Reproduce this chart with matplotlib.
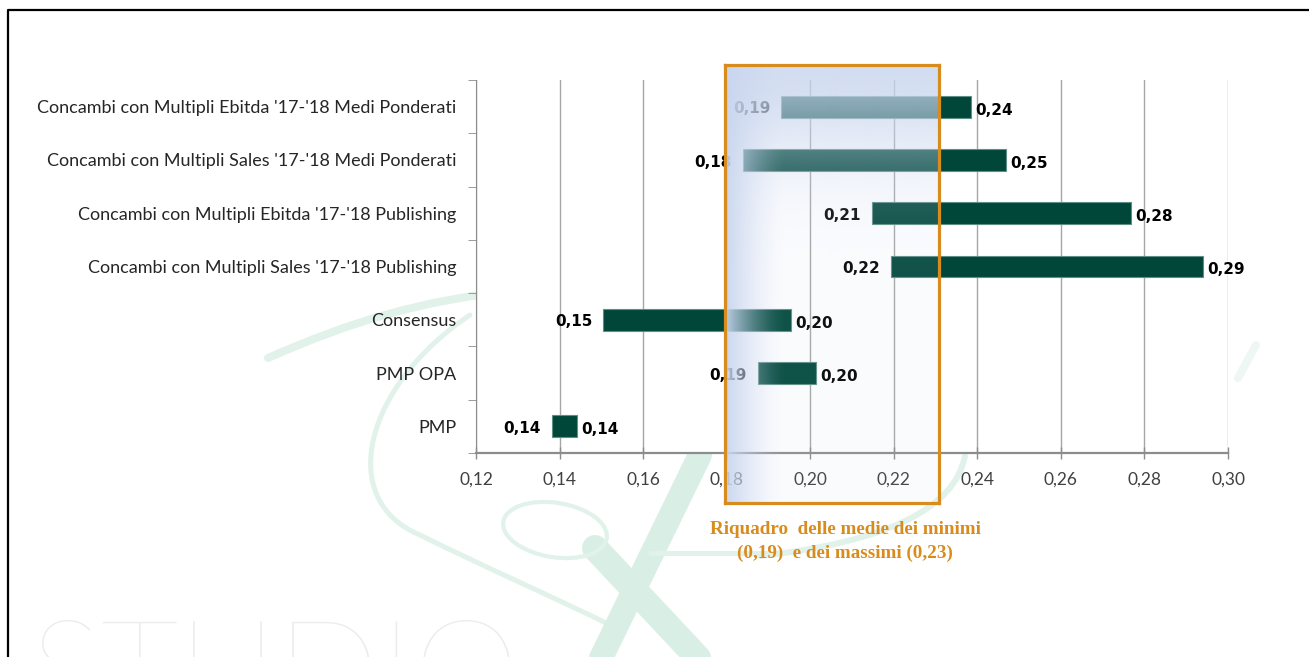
import numpy as np
import matplotlib
matplotlib.use("Agg")
import matplotlib.pyplot as plt
from matplotlib.path import Path
from matplotlib.patches import PathPatch, Ellipse
from matplotlib.lines import Line2D

# ranges (min, max)
categories = [
    "Concambi con Multipli Ebitda '17-'18 Medi Ponderati",
    "Concambi con Multipli Sales '17-'18 Medi Ponderati",
    "Concambi con Multipli Ebitda '17-'18 Publishing",
    "Concambi con Multipli Sales '17-'18 Publishing",
    "Consensus",
    "PMP OPA",
    "PMP",
]
mins = [0.1931, 0.1838, 0.2148, 0.2193, 0.1505, 0.1874, 0.1382]
maxs = [0.2385, 0.2469, 0.2768, 0.2941, 0.1955, 0.2015, 0.1442]
xticks = [0.12, 0.14, 0.16, 0.18, 0.20, 0.22, 0.24, 0.26, 0.28, 0.30]
box_range = [0.1795, 0.2308]
caption = ["Riquadro  delle medie dei minimi", "(0,19)  e dei massimi (0,23)"]

W, H = 1309, 657
GREEN = "#00473a"
ORANGE = "#d98c1e"


def fx(px):
    return px / W


def fy(py):
    return 1 - py / H


def fmt(v):
    return f"{v:.2f}".replace(".", ",")


fig = plt.figure(figsize=(W / 100, H / 100), dpi=100)
fig.patch.set_facecolor("white")

# ---- watermark (background decoration) ----
mint = "#e1f2ea"
mint2 = "#d9efe5"


def stroke(verts, codes, lw, color=mint):
    p = Path([(fx(x), fy(y)) for x, y in verts], codes)
    fig.add_artist(PathPatch(p, fill=False, lw=lw * 0.72, edgecolor=color,
                             capstyle="round", transform=fig.transFigure, zorder=-2))


C4 = Path.CURVE4
C3 = Path.CURVE3
MV = Path.MOVETO
LT = Path.LINETO
stroke([(268, 358), (350, 322), (420, 300), (520, 290)], [MV, C4, C4, C4], 8)
stroke([(470, 315), (365, 385), (335, 500), (420, 535),
        (480, 565), (560, 600), (610, 625)], [MV, C4, C4, C4, C4, C4, C4], 5)
stroke([(700, 455), (600, 660)], [MV, LT], 24, mint2)
stroke([(595, 548), (700, 660)], [MV, LT], 26, mint2)
stroke([(965, 456), (950, 535), (760, 556)], [MV, C3, C3], 6)
stroke([(650, 553), (770, 553)], [MV, LT], 5)
stroke([(1238, 378), (1256, 345)], [MV, LT], 8, "#eef7f3")
fig.add_artist(Ellipse((fx(555), fy(530)), fx(95), 60 / H, angle=35, fill=False,
                       lw=3, edgecolor=mint, transform=fig.transFigure, zorder=-2))
fig.text(fx(30), fy(618), "STUDIO", fontsize=98, color="#eaedec", family="Lato",
         fontweight="light", va="top", ha="left", zorder=-1)

# ---- main axes ----
ax_l, ax_r, ax_t, ax_b = 476, 1228, 80, 453
ax = fig.add_axes([fx(ax_l), fy(ax_b), fx(ax_r - ax_l), (ax_b - ax_t) / H])
ax.set_facecolor("white")

y = np.arange(len(categories))
widths = np.array(maxs) - np.array(mins)
ax.barh(y, widths, left=mins, height=0.41, color=GREEN, edgecolor="#5e8e84",
        linewidth=0.8, zorder=3)

for yi, lo, hi in zip(y, mins, maxs):
    ax.annotate(fmt(lo), xy=(lo, yi), xytext=(-8, -1.5), textcoords="offset points",
                ha="right", va="center", fontsize=11, fontweight="bold",
                family="DejaVu Sans", color="black", zorder=4)
    ax.annotate(fmt(hi), xy=(hi, yi), xytext=(3, -2.5), textcoords="offset points",
                ha="left", va="center", fontsize=11, fontweight="bold",
                family="DejaVu Sans", color="black", zorder=4, annotation_clip=False)

ax.set_xlim(xticks[0], xticks[-1])
ax.set_ylim(len(categories) - 0.5, -0.5)
ax.set_xticks(xticks)
ax.set_xticklabels([fmt(v) for v in xticks], fontsize=12.5, family="Lato", color="#404040")
ax.set_yticks(y)
ax.set_yticklabels(categories, fontsize=13, family="Lato", color="#262626")
ax.set_yticks(np.arange(-0.5, len(categories), 1), minor=True)
ax.tick_params(axis="y", which="major", length=0, pad=14)
ax.tick_params(axis="y", which="minor", length=6, color="#8c8c8c", direction="out")
ax.tick_params(axis="x", which="major", length=9, direction="inout", color="#8c8c8c",
               width=1, pad=9)
ax.grid(axis="x", color="#a6a6a6", linewidth=1)
ax.set_axisbelow(True)
for s in ("top", "right"):
    ax.spines[s].set_visible(False)
ax.spines["left"].set_color("#8c8c8c")
ax.spines["bottom"].set_color("#8c8c8c")
ax.spines["bottom"].set_linewidth(1.6)

# ---- highlight box with gradient ----
span = xticks[-1] - xticks[0]
bx0 = ax_l + (box_range[0] - xticks[0]) / span * (ax_r - ax_l)
bx1 = ax_l + (box_range[1] - xticks[0]) / span * (ax_r - ax_l)
by0, by1 = 65, 503
bw, bh = int(round(bx1 - bx0)), by1 - by0
ov = fig.add_axes([fx(bx0), fy(by1), fx(bx1 - bx0), bh / H], zorder=5)
ov.patch.set_alpha(0)
xs = np.arange(bw)
ys = np.arange(bh)
ah = 0.95 * np.clip(1 - xs / 60.0, 0, 1) ** 1.5
av = 0.78 * np.exp(-(ys / 95.0) ** 2)
alpha = 1 - (1 - ah[None, :]) * (1 - av[:, None]) * (1 - 0.08)
img = np.zeros((bh, bw, 4))
img[..., 0] = 200 / 255
img[..., 1] = 213 / 255
img[..., 2] = 238 / 255
img[..., 3] = alpha
ov.imshow(img, aspect="auto", interpolation="bilinear", extent=(0, 1, 0, 1))
ov.set_xlim(0, 1)
ov.set_ylim(0, 1)
ov.set_xticks([])
ov.set_yticks([])
for s in ov.spines.values():
    s.set_color(ORANGE)
    s.set_linewidth(2.3)

fig.text(fx(845), fy(529), caption[0], ha="center", va="center", fontsize=13.8,
         family="Liberation Serif", fontweight="bold", color=ORANGE, zorder=6)
fig.text(fx(845), fy(553), caption[1], ha="center", va="center", fontsize=13.8,
         family="Liberation Serif", fontweight="bold", color=ORANGE, zorder=6)

# frame border (left and top)
fig.add_artist(Line2D([fx(8), fx(8), 1], [0, fy(10), fy(10)], color="black",
                      lw=1.6, transform=fig.transFigure, zorder=10))

fig.savefig("out.png", dpi=100)
